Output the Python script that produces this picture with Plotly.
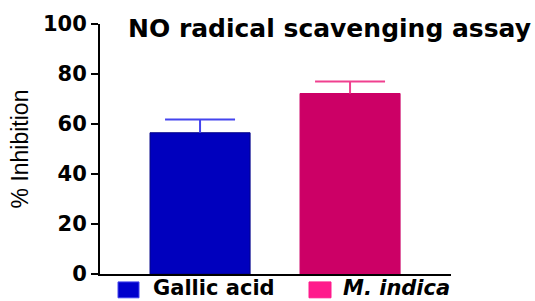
import plotly.graph_objects as go

categories = ["Gallic acid", "M. indica"]
values = [56.5, 72.2]
errors = [5.3, 4.8]
y_ticks = [0, 20, 40, 60, 80, 100]

bar_colors = ["#0000BE", "#CC0066"]
line_colors = ["#000088", "#CC0066"]
err_colors = ["#4444EE", "#F0408F"]

fig = go.Figure()
for i, (cat, v, e) in enumerate(zip(categories, values, errors)):
    fig.add_trace(go.Bar(
        x=[i], y=[v], name=cat, width=0.667,
        marker=dict(color=bar_colors[i], line=dict(color=line_colors[i], width=1)),
        showlegend=False,
    ))
    # one-sided (upper) error bar: stem from the bar top, cap as a marker
    fig.add_trace(go.Scatter(
        x=[i], y=[v + e], mode="markers",
        marker=dict(symbol="line-ew", size=50, color=err_colors[i],
                    line=dict(color=err_colors[i], width=2.2)),
        error_y=dict(type="data", symmetric=False, array=[0], arrayminus=[e],
                     color=err_colors[i], thickness=2, width=0),
        showlegend=False, hoverinfo="skip",
    ))

fig.update_layout(
    width=535, height=301,
    margin=dict(l=100, r=84, t=22, b=27),
    plot_bgcolor="white", paper_bgcolor="white",
    xaxis=dict(range=[-0.667, 1.673], showticklabels=False, ticks="",
               showline=True, linecolor="black", linewidth=2, showgrid=False,
               zeroline=False),
    yaxis=dict(range=[0, 100], tickvals=y_ticks, ticks="outside", ticklen=7,
               tickwidth=2, tickcolor="black", showline=True, linecolor="black",
               linewidth=2, showgrid=False, zeroline=False,
               tickfont=dict(family="DejaVu Sans", size=21, color="black", weight="bold"),
               title=dict(text="% Inhibition",
                          font=dict(family="Liberation Sans", size=23, color="black"),
                          standoff=8)),
    showlegend=False,
)

# Title
fig.add_annotation(text="<b>NO radical scavenging assay</b>", xref="paper", yref="paper",
                   x=(126 - 100) / 351, y=1.0 - (27 - 22) / 252, xanchor="left", yanchor="middle",
                   showarrow=False,
                   font=dict(family="DejaVu Sans", size=25, color="black"))

# Legend (manual)
legend_sq = [(118, 139, "#0000CC", "#4444EE"), (309, 331, "#FF1A8C", "#FF1A8C")]
legend_txt = [(151, "<b>Gallic acid</b>"), (341, "<b><i>M. indica</i></b>")]
for (x0, x1, fc, lc), (tx, txt) in zip(legend_sq, legend_txt):
    fig.add_shape(type="rect", xref="paper", yref="paper",
                  x0=(x0 - 100) / 351, x1=(x1 - 100) / 351,
                  y0=(274 - 282) / 252, y1=(274 - 298) / 252,
                  fillcolor=fc, line=dict(color=lc, width=1))
    fig.add_annotation(text=txt, xref="paper", yref="paper",
                       x=(tx - 100) / 351, y=(274 - 288) / 252,
                       xanchor="left", yanchor="middle", showarrow=False,
                       font=dict(family="DejaVu Sans", size=21, color="black"))

fig.write_html("out.html", config={"displayModeBar": False},
               post_script="document.body.style.margin='0px';")
